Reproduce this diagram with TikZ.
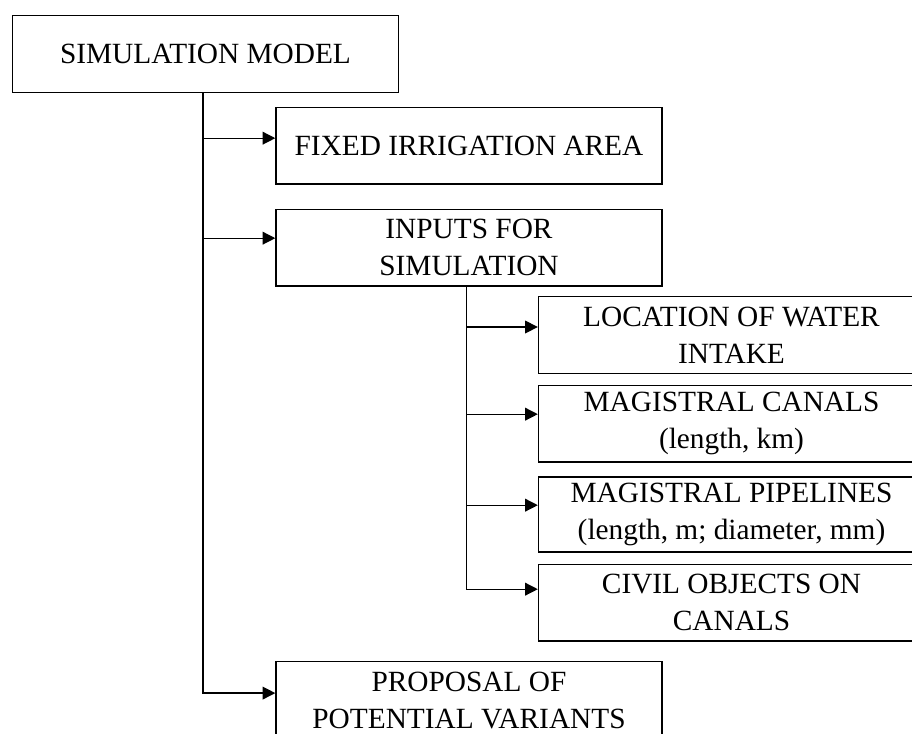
\documentclass[tikz,border=0pt]{standalone}
\usepackage{fontspec}
\setmainfont{Liberation Serif}
\usetikzlibrary{arrows.meta,positioning}

\begin{document}
\begin{tikzpicture}[x=0.75pt,y=-0.75pt,
  box/.style={draw,line width=1pt,inner sep=0pt,align=center,
    minimum width=289.5pt,minimum height=57.5pt,
    font=\fontsize{22}{27.75}\selectfont},
  link/.style={line width=1pt,-{Triangle[length=9.5pt,width=9.5pt]}}]
\useasboundingbox (0,0) rectangle (912,733);
\clip (0,0) rectangle (912,733);
\node [box] (model) at (205.5,54) {SIMULATION MODEL};
\node [box] (fixed) at (469,145.5) {FIXED IRRIGATION AREA};
\node [box] (inputs) at (469,247.5) {INPUTS FOR\\SIMULATION};
\node [box] (location) at (731.5,335) {LOCATION OF WATER\\INTAKE};
\node [box] (canals) at (731.5,423.5) {MAGISTRAL CANALS\\(length, km)};
\node [box,minimum height=56.25pt] (pipes) at (731.5,514.5) {MAGISTRAL PIPELINES\\(length, m; diameter, mm)};
\node [box] (civil) at (731.5,602.5) {CIVIL OBJECTS ON\\CANALS};
\node [box] (proposal) at (469,700) {PROPOSAL OF\\POTENTIAL VARIANTS};
% main branch
\draw [link] ([xshift=-2pt]model.south) |- ([yshift=5.5pt]fixed.west);
\draw [link] ([xshift=-2pt]model.south) |- ([yshift=7pt]inputs.west);
\draw [link] ([xshift=-2pt]model.south) |- ([yshift=5.2pt]proposal.west);
% inputs branch
\draw [link] ([xshift=-2pt]inputs.south) |- ([yshift=6pt]location.west);
\draw [link] ([xshift=-2pt]inputs.south) |- ([yshift=7pt]canals.west);
\draw [link] ([xshift=-2pt]inputs.south) |- ([yshift=7pt]pipes.west);
\draw [link] ([xshift=-2pt]inputs.south) |- ([yshift=10pt]civil.west);
\end{tikzpicture}
\end{document}
